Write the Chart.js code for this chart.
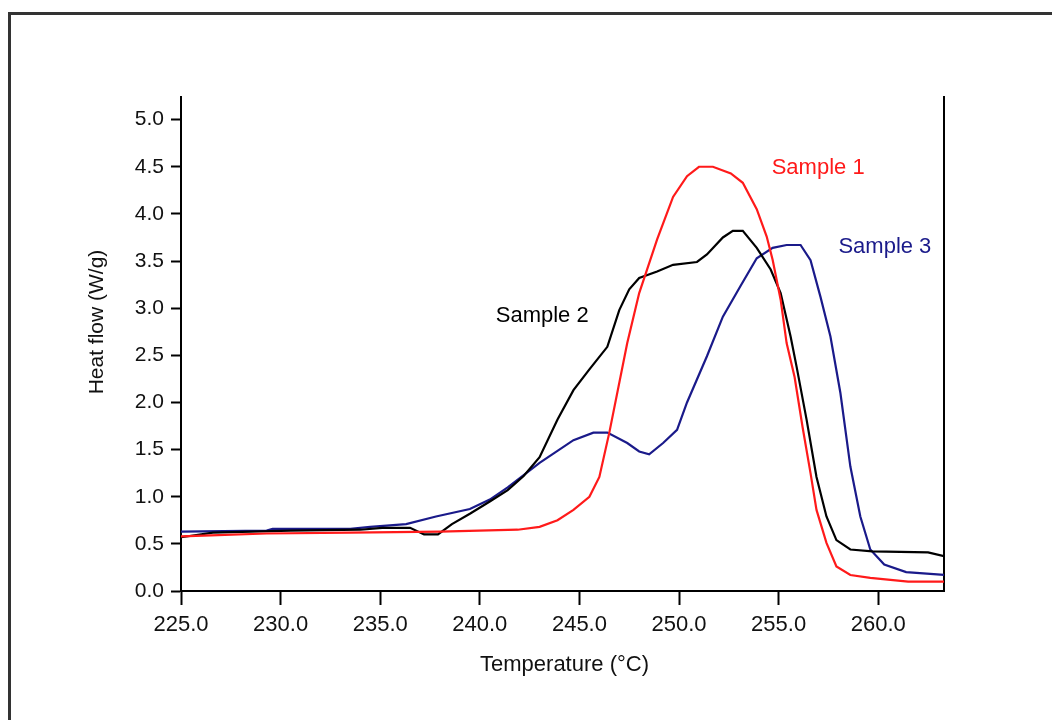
<!DOCTYPE html>
<html lang="en">
<head>
    <meta charset="UTF-8">
    <title>Heat flow</title>
    <script src="https://cdn.jsdelivr.net/npm/chart.js@4.4.1/dist/chart.umd.min.js"></script>
    <style>
        body { margin: 0; background: #fff; }
    </style>
</head>
<body>
    <canvas id="chart" width="1052" height="720"></canvas>

    <script>
        // readings (temperature in °C, heat flow in W/g)
        const temps1 = [225, 226.5, 229.3, 233.5, 238, 241.9, 243.0, 243.9, 244.7, 245.5, 246.0, 246.5, 247.4, 248.0, 248.9, 249.7, 250.4, 251.0, 251.7, 252.6, 253.2, 253.9, 254.4, 254.7, 255.1, 255.4, 255.8, 256.2, 256.6, 256.9, 257.4, 257.9, 258.6, 259.6, 261.5, 263.3];
        const flow1  = [0.58, 0.59, 0.61, 0.62, 0.63, 0.65, 0.68, 0.75, 0.86, 1.0, 1.21, 1.68, 2.63, 3.16, 3.73, 4.18, 4.4, 4.5, 4.5, 4.43, 4.33, 4.05, 3.76, 3.51, 3.09, 2.63, 2.27, 1.74, 1.25, 0.86, 0.51, 0.26, 0.17, 0.14, 0.1, 0.1];

        const temps2 = [225, 226.6, 230.5, 234, 235.1, 236.5, 237.2, 237.9, 238.6, 239.5, 240.5, 241.4, 242.2, 243.0, 243.9, 244.7, 245.5, 246.4, 247.0, 247.5, 248.0, 248.9, 249.7, 250.9, 251.4, 252.2, 252.7, 253.2, 253.9, 254.6, 255.1, 255.6, 255.9, 256.4, 256.9, 257.4, 257.9, 258.6, 259.7, 262.5, 263.3];
        const flow2  = [0.57, 0.62, 0.64, 0.65, 0.67, 0.67, 0.6, 0.6, 0.71, 0.82, 0.95, 1.07, 1.22, 1.42, 1.82, 2.13, 2.35, 2.59, 2.98, 3.2, 3.32, 3.39, 3.46, 3.49, 3.57, 3.75, 3.82, 3.82, 3.64, 3.41, 3.16, 2.7, 2.38, 1.82, 1.21, 0.79, 0.54, 0.44, 0.42, 0.41, 0.37];

        const temps3 = [225, 229.3, 229.6, 233.5, 234.5, 236.3, 237.8, 239.5, 240.5, 241.4, 243.0, 244.7, 245.7, 246.4, 247.4, 248.0, 248.5, 249.2, 249.9, 250.4, 251.4, 252.2, 253.1, 253.9, 254.7, 255.4, 256.1, 256.6, 257.1, 257.6, 258.1, 258.6, 259.1, 259.6, 260.3, 261.4, 263.3];
        const flow3  = [0.63, 0.64, 0.66, 0.66, 0.68, 0.71, 0.79, 0.87, 0.97, 1.1, 1.36, 1.6, 1.68, 1.68, 1.57, 1.48, 1.45, 1.57, 1.71, 2.0, 2.49, 2.91, 3.24, 3.53, 3.64, 3.67, 3.67, 3.51, 3.12, 2.7, 2.1, 1.32, 0.79, 0.44, 0.28, 0.2, 0.17];

        const xTicks = [225, 230, 235, 240, 245, 250, 255, 260];
        const yTicks = [0, 0.5, 1, 1.5, 2, 2.5, 3, 3.5, 4, 4.5, 5];

        const seriesNames  = ['Sample 1', 'Sample 2', 'Sample 3'];
        const seriesColors = ['#ff1a1a', '#000000', '#1a1a8a'];
        // where each curve's label sits, in data units
        const labelTemps = [254.65, 240.8, 258.0];
        const labelFlows = [4.49, 2.92, 3.65];

        const FONT = "'Liberation Sans', Arial, sans-serif";

        const toPoints = (xs, ys) => xs.map((x, i) => ({x: x, y: ys[i]}));

        const datasets = [
            toPoints(temps1, flow1),
            toPoints(temps2, flow2),
            toPoints(temps3, flow3)
        ].map((pts, i) => ({
            label: seriesNames[i],
            data: pts,
            borderColor: seriesColors[i],
            borderWidth: 2.2,
            pointRadius: 0,
            tension: 0,
            fill: false
        }));

        // outer frame, curve labels and axis titles
        const decorations = {
            id: 'decorations',
            beforeDraw(chart) {
                const ctx = chart.ctx;
                ctx.save();
                ctx.strokeStyle = '#333';
                ctx.lineWidth = 3;
                ctx.strokeRect(9.5, 13.5, 1200, 900);
                ctx.restore();
            },
            afterDatasetsDraw(chart) {
                const ctx = chart.ctx;
                const xs = chart.scales.x, ys = chart.scales.y;
                const area = chart.chartArea;
                ctx.save();
                ctx.font = '22px ' + FONT;
                ctx.textBaseline = 'middle';
                ctx.textAlign = 'left';
                seriesNames.forEach((name, i) => {
                    ctx.fillStyle = seriesColors[i];
                    ctx.fillText(name, xs.getPixelForValue(labelTemps[i]), ys.getPixelForValue(labelFlows[i]));
                });

                ctx.fillStyle = '#111';
                ctx.textAlign = 'center';
                ctx.fillText('Temperature (°C)', (area.left + area.right) / 2 + 2, 665);

                ctx.font = '21px ' + FONT;
                ctx.translate(97, 322);
                ctx.rotate(-Math.PI / 2);
                ctx.fillText('Heat flow (W/g)', 0, 0);
                ctx.restore();
            }
        };

        const ctx = document.getElementById('chart').getContext('2d');
        new Chart(ctx, {
            type: 'line',
            data: { datasets: datasets },
            options: {
                responsive: false,
                animation: false,
                layout: { padding: { left: 0, top: 97, right: 108, bottom: 0 } },
                plugins: {
                    legend: { display: false },
                    tooltip: { enabled: false }
                },
                scales: {
                    x: {
                        type: 'linear',
                        min: 225,
                        max: 263.3,
                        afterBuildTicks: s => { s.ticks = xTicks.map(v => ({value: v})); },
                        afterFit: s => { s.height = 129; },
                        grid: { drawOnChartArea: false, tickLength: 14, tickColor: '#000', tickWidth: 2 },
                        border: { color: '#000', width: 2 },
                        ticks: {
                            color: '#111',
                            padding: 7,
                            maxRotation: 0,
                            font: { family: FONT, size: 22 },
                            callback: v => v.toFixed(1)
                        }
                    },
                    y: {
                        min: 0,
                        max: 5.24,
                        afterBuildTicks: s => { s.ticks = yTicks.map(v => ({value: v})); },
                        afterFit: s => { s.width = 181; },
                        grid: { drawOnChartArea: false, tickLength: 10, tickColor: '#000', tickWidth: 2 },
                        border: { color: '#000', width: 2 },
                        ticks: {
                            color: '#111',
                            padding: 7,
                            font: { family: FONT, size: 21 },
                            callback: v => v.toFixed(1)
                        }
                    },
                    y2: {
                        position: 'right',
                        min: 0,
                        max: 5.24,
                        afterFit: s => { s.width = 0; },
                        grid: { drawOnChartArea: false, drawTicks: false },
                        border: { color: '#000', width: 2 },
                        ticks: { display: false }
                    }
                }
            },
            plugins: [decorations]
        });
    </script>
</body>
</html>
